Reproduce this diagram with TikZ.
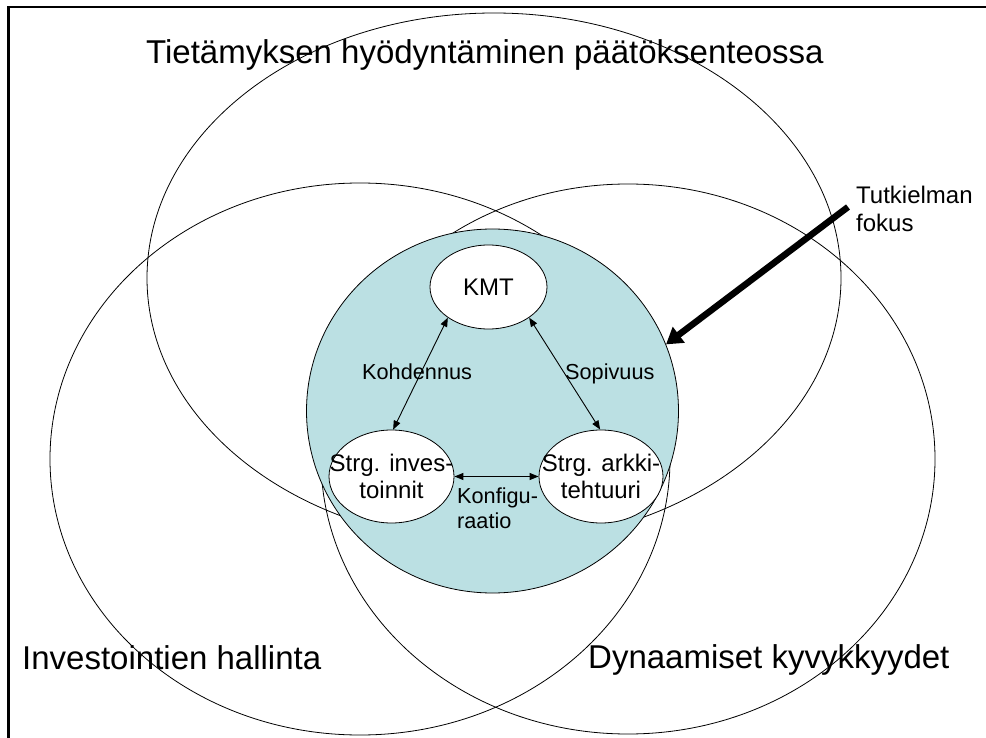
\documentclass[tikz,border=0pt]{standalone}
\usepackage{fontspec}
\setmainfont{Liberation Sans}
\usetikzlibrary{shapes.geometric,arrows.meta}
\definecolor{focusfill}{RGB}{187,224,227}

\begin{document}
\begin{tikzpicture}[x=1pt,y=-1pt,
  region/.style={ellipse, draw, line width=0.8pt, inner sep=0pt},
  concept/.style={ellipse, draw, fill=white, line width=0.8pt, inner sep=0pt},
  ctext/.style={inner sep=0pt, align=center, font=\fontsize{24}{27.6}\selectfont},
  link/.style={line width=0.9pt,
    {Triangle[length=9pt,width=7pt]}-{Triangle[length=9pt,width=7pt]}},
  lbl/.style={font=\fontsize{21.7}{25}\selectfont, inner sep=0pt},
  bigtext/.style={font=\fontsize{33}{38}\selectfont, inner sep=0pt, anchor=base west},
]
\useasboundingbox (0,0) rectangle (986,738);
\fill[white] (0,0) rectangle (986,738);

% page frame (top and left edges)
\draw[line width=2.3pt] (8.5,738) -- (8.5,7.3) -- (986,7.3);

% three overlapping research areas
\node[region, minimum width=694pt, minimum height=530pt] (know) at (494,278) {};
\node[region, minimum width=620pt, minimum height=552pt] (inves) at (360,459) {};
\node[region, minimum width=614pt, minimum height=550pt] (dyn) at (628,459) {};

% focus area
\node[ellipse, draw, fill=focusfill, line width=0.8pt, inner sep=0pt,
      minimum width=372pt, minimum height=364pt] (focus) at (492.5,411) {};

% concepts
\node[concept, minimum width=117pt, minimum height=84pt] (kmt) at (488.5,287) {};
\node[concept, minimum width=125pt, minimum height=93pt] (inv) at (391.5,476.5) {};
\node[concept, minimum width=124pt, minimum height=93pt] (ark) at (601,476.5) {};
\node[ctext] (kmttext) at (kmt) {KMT};
\node[ctext] (invtext) at (inv) {Strg. inves-\\toinnit};
\node[ctext] (arktext) at (ark) {Strg. arkki-\\tehtuuri};

% relations
\draw[link] (kmt.217) -- (inv.88);
\draw[link] (kmt.323) -- (ark.91);
\draw[link] (inv.east) -- (ark.west);

\node[lbl, anchor=base west] (koh) at (362,379) {Kohdennus};
\node[lbl, anchor=base west] (sop) at (565,379) {Sopivuus};
\node[lbl, anchor=north west, align=left] (konf) at (457,487.5) {Konfigu-\\raatio};

% area titles
\node[bigtext] (tknow) at (146,64) {Tietämyksen hyödyntäminen päätöksenteossa};
\node[bigtext] (tinv) at (22,669) {Investointien hallinta};
\node[bigtext] (tdyn) at (588,668) {Dynaamiset kyvykkyydet};

% pointer to the focus area
\node[font=\fontsize{24}{28}\selectfont, inner sep=0pt, anchor=north west, align=left]
  (tfocus) at (856,185.5) {Tutkielman\\fokus};
\coordinate (tail) at (848,207);
\draw[line width=6.5pt, -{Triangle[length=16pt,width=19pt]}] (tail) -- (focus.21.3);
\end{tikzpicture}
\end{document}
